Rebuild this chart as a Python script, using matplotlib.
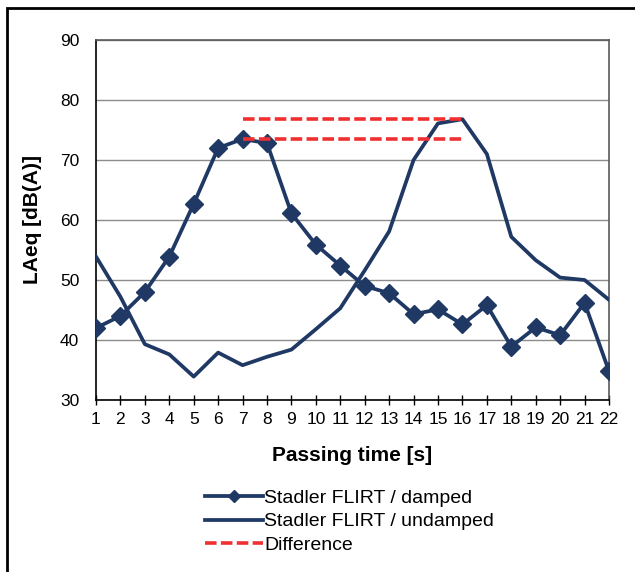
import matplotlib.pyplot as plt
from matplotlib.patches import Rectangle

plt.rcParams['font.family'] = ['Liberation Sans', 'DejaVu Sans']

seconds = list(range(1, 23))
damped = [42.0, 44.0, 48.0, 53.9, 62.7, 72.0, 73.5, 72.8, 61.1, 55.9, 52.4,
          49.0, 47.8, 44.3, 45.1, 42.6, 45.8, 38.9, 42.1, 40.8, 46.2, 34.8]
undamped = [53.9, 47.2, 39.3, 37.6, 33.9, 37.9, 35.8, 37.2, 38.4, 41.8, 45.3,
            51.6, 58.1, 70.0, 76.1, 76.8, 71.0, 57.2, 53.3, 50.4, 50.0, 46.7]
diff_x = [7, 16]
diff_top = [76.8, 76.8]
diff_bottom = [73.5, 73.5]

navy = '#1f3864'
red = '#f03030'

fig = plt.figure(figsize=(6.35, 5.72), dpi=100)
ax = fig.add_axes([96 / 635, 1 - 400 / 572, 513 / 635, 360 / 572])

# outer frame of the chart object
fig.patches.append(Rectangle((7 / 635, -0.1), 1.2, 1 - 8 / 572 + 0.1,
                             transform=fig.transFigure, fill=False,
                             edgecolor='black', linewidth=2))

ax.plot(seconds, damped, color=navy, linewidth=2.7, marker='D', markersize=9,
        label='Stadler FLIRT / damped', zorder=3)
ax.plot(seconds, undamped, color=navy, linewidth=2.7,
        label='Stadler FLIRT / undamped', zorder=3)
ax.plot(diff_x, diff_top, color=red, linewidth=2.6, dashes=(3.2, 1.2),
        label='Difference', zorder=4)
ax.plot(diff_x, diff_bottom, color=red, linewidth=2.6, dashes=(3.2, 1.2), zorder=4)

ax.set_xlim(1, 22)
ax.set_ylim(30, 90)
ax.set_xticks(seconds)
ax.set_yticks(range(30, 91, 10))
ax.yaxis.grid(True, color='#8c8c8c', linewidth=1)
ax.set_axisbelow(True)

ax.tick_params(axis='x', direction='inout', length=7, width=1, pad=5, labelsize=12.5)
ax.tick_params(axis='y', length=0, pad=12, labelsize=12.5)

ax.spines['left'].set_color('black')
ax.spines['bottom'].set_color('black')
ax.spines['top'].set_color('#5a5a5a')
ax.spines['right'].set_color('#5a5a5a')
for s in ax.spines.values():
    s.set_linewidth(1.2)

ax.set_xlabel('Passing time [s]', fontsize=15, fontweight='bold', labelpad=14)
ax.set_ylabel('LAeq [dB(A)]', fontsize=15, fontweight='bold', labelpad=13)

fig.legend(loc='upper left', bbox_to_anchor=(205 / 635, 1 - 489 / 572),
           frameon=False, fontsize=14, handlelength=3.0, handletextpad=0.05,
           labelspacing=0.32, borderaxespad=0, borderpad=0, markerscale=0.7)

fig.savefig('out.png', dpi=100)
